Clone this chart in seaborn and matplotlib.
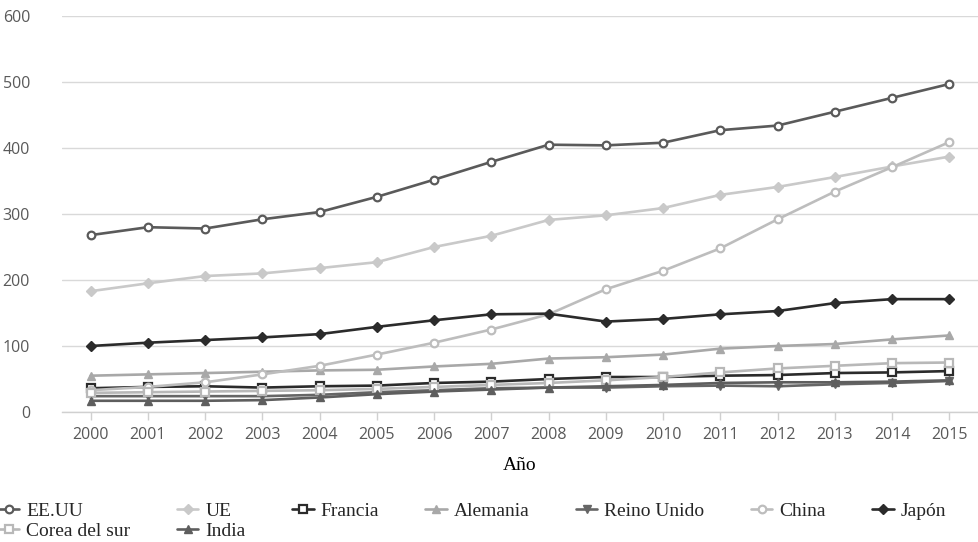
import numpy as np
import pandas as pd
import matplotlib
matplotlib.use("Agg")
import matplotlib.pyplot as plt
import seaborn as sns

years = [str(y) for y in range(2000, 2016)]

ee_uu = [268, 280, 278, 292, 303, 326, 352, 379, 405, 404, 408, 427, 434, 455, 476, 497]
ue = [183, 195, 206, 210, 218, 227, 250, 267, 291, 298, 309, 329, 341, 356, 372, 387]
francia = [36, 38, 39, 37, 39, 40, 44, 46, 50, 53, 53, 55, 56, 59, 60, 62]
alemania = [55, 57, 59, 61, 63, 64, 69, 73, 81, 83, 87, 96, 100, 103, 110, 116]
reino_unido = [24, 24, 24, 24, 26, 30, 33, 36, 37, 37, 39, 40, 39, 42, 44, 47]
china = [33, 38, 45, 57, 70, 87, 105, 125, 148, 186, 214, 248, 292, 334, 371, 409]
japon = [100, 105, 109, 113, 118, 129, 139, 148, 149, 137, 141, 148, 153, 165, 171, 171]
corea = [29, 30, 31, 32, 33, 35, 38, 41, 44, 48, 53, 60, 66, 70, 74, 75]
india = [17, 17, 17, 18, 22, 27, 31, 34, 37, 39, 41, 44, 45, 45, 46, 48]

series = {
    "EE.UU": ee_uu,
    "UE": ue,
    "Francia": francia,
    "Alemania": alemania,
    "Reino Unido": reino_unido,
    "China": china,
    "Japón": japon,
    "Corea del sur": corea,
    "India": india,
}

# color, marker, hollow marker
styles = {
    "EE.UU": ("#5a5a5a", "o", True),
    "UE": ("#c9c9c9", "D", False),
    "Francia": ("#2b2b2b", "s", True),
    "Alemania": ("#a8a8a8", "^", False),
    "Reino Unido": ("#666666", "v", False),
    "China": ("#bdbdbd", "o", True),
    "Japón": ("#2b2b2b", "D", False),
    "Corea del sur": ("#b8b8b8", "s", True),
    "India": ("#5e5e5e", "^", False),
}

sns.set_theme(style="white")
plt.rcParams["font.family"] = ["Open Sans", "DejaVu Sans"]

fig = plt.figure(figsize=(9.79, 5.42), dpi=100)
ax = fig.add_axes([62 / 979, 130 / 542, 916 / 979, 396 / 542])

xpos = np.arange(len(years))
handles = {}
for name, vals in series.items():
    color, marker, hollow = styles[name]
    df = pd.DataFrame({"x": xpos, "y": vals})
    sns.lineplot(
        data=df, x="x", y="y", ax=ax, color=color, linewidth=1.9,
        marker=marker, markersize=5.5 if marker != "D" else 4.8,
        markerfacecolor="white" if hollow else color,
        markeredgecolor=color, markeredgewidth=1.6 if hollow else 1.0,
        label=name, legend=False,
    )
    handles[name] = ax.lines[-1]

ax.set_xlim(-0.5, 15.5)
ax.set_ylim(0, 600)
ax.set_yticks(range(0, 601, 100))
ax.set_xticks(xpos)
ax.set_xticklabels(years)
ax.yaxis.grid(True, color="#d9d9d9", linewidth=1.0)
ax.xaxis.grid(False)
for side in ["left", "right", "top"]:
    ax.spines[side].set_visible(False)
ax.spines["bottom"].set_color("#d0d0d0")
ax.spines["bottom"].set_linewidth(1.0)
ax.tick_params(axis="x", bottom=True, length=6, width=1, color="#d0d0d0",
               labelsize=11.5, labelcolor="#595959", pad=5)
ax.tick_params(axis="y", left=False, labelsize=11.5, labelcolor="#595959", pad=17)
ax.set_ylabel("")
ax.set_xlabel("Año", family=["Liberation Serif"], fontsize=14, color="black", labelpad=10)

# legend laid out so rows read across
order = ["EE.UU", "Corea del sur", "UE", "India", "Francia", "Alemania",
         "Reino Unido", "China", "Japón"]
leg = fig.legend(
    [handles[n] for n in order], order, ncol=7, loc="lower left",
    bbox_to_anchor=(-0.004, 0.0), frameon=False,
    prop={"family": ["Liberation Serif"], "size": 14},
    handlelength=1.1, handletextpad=0.35, columnspacing=2.4,
    labelspacing=0.12, borderaxespad=0.0, borderpad=0.1,
)

fig.savefig("out.png", dpi=100)
